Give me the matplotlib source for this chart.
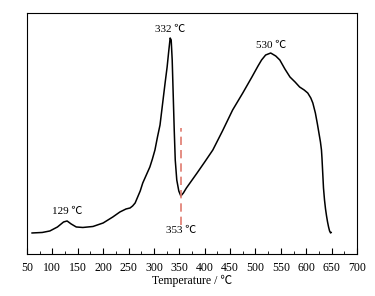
import matplotlib
matplotlib.use('Agg')
import matplotlib.pyplot as plt
from matplotlib.ticker import MultipleLocator

plt.rcParams['font.family'] = ['Liberation Serif', 'Noto Sans CJK SC']

# curve (temperature in C, signal in arbitrary units)
temp = [60, 80, 95, 110, 122, 129, 137, 147, 160, 180, 200, 219, 233, 245,
        253, 258, 263, 268, 273, 278, 285, 292, 297, 302, 307, 312, 317, 322,
        326, 329, 332, 334, 336, 338, 340, 342, 345, 349, 353, 358, 364, 371,
        385, 400, 416, 435, 455, 475, 493, 505, 512, 520, 530, 540, 548, 558,
        568, 578, 587, 596, 603, 609, 613, 618, 622, 625, 628, 630, 631, 632,
        633, 634, 636, 638, 640, 642, 644, 646, 648, 649]
signal = [21, 21.5, 23, 27, 32, 33, 30, 27, 26.5, 27.5, 31, 37, 42, 45,
          46, 48, 51, 57, 63, 71, 79, 87, 95, 104, 117, 129, 150, 171,
          187, 202, 216, 214, 194, 159, 124, 94, 74, 63, 58, 61, 66, 71,
          81, 92, 104, 123, 144, 161, 177, 188, 194, 199, 201, 198, 194, 185,
          177, 172, 167, 164, 161, 156, 151, 141, 130, 121, 112, 104, 96, 86,
          76, 66, 54, 45, 38, 32, 27, 23, 21, 21.5]

# annotations: temperature, label position
peak_temps = [129, 332, 530, 353]
label_y = [42, 225, 209, 23]
split_temp = 353
split_range = [29, 126]

fig = plt.figure(figsize=(3.75, 2.96), dpi=100)
ax = fig.add_axes([0.072, 0.142, 0.88, 0.814])

ax.plot(temp, signal, 'k-', lw=1.1)
ax.plot([split_temp, split_temp], split_range, ls=(0, (5, 3)), color='#e07a6e', lw=1.2)

for t, y in zip(peak_temps, label_y):
    ax.text(t, y, '{} \u2103'.format(t), ha='center', va='center', fontsize=8)

ax.set_xlim(50, 700)
ax.set_ylim(0, 241)
ax.xaxis.set_major_locator(MultipleLocator(50))
ax.xaxis.set_minor_locator(MultipleLocator(25))
ax.tick_params(axis='x', which='both', direction='in', labelsize=8.5, pad=6)
ax.tick_params(axis='x', which='major', length=4.5)
ax.tick_params(axis='x', which='minor', length=2.5)
ax.set_yticks([])
ax.set_xlabel('Temperature / \u2103', fontsize=8.5, labelpad=0)

plt.savefig('out.png', dpi=100)
